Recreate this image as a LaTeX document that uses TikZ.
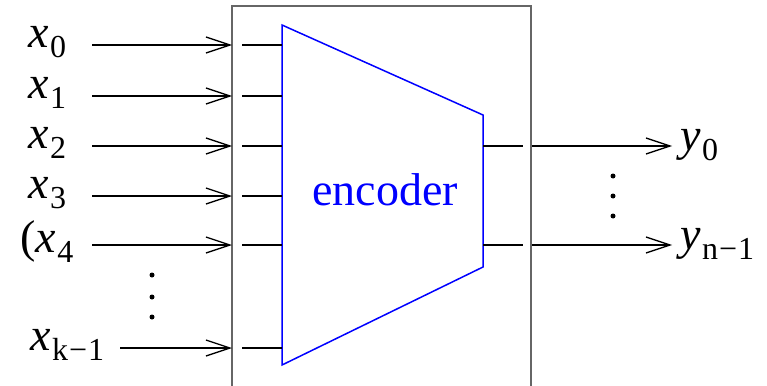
\documentclass[tikz,border=0pt]{standalone}
\usepackage{fontspec}
\setmainfont{Liberation Serif}
\usetikzlibrary{arrows.meta}
\newcommand{\sigtext}[2]{\textit{#1}\kern1pt\raisebox{-10pt}{\fontsize{32}{32}\selectfont #2}}

\begin{document}
\begin{tikzpicture}[x=1pt,y=-1pt,line width=1.3pt,
		sig/.style={-{Straight Barb[length=24pt,width=16pt,line width=1.3pt]}},
		lbl/.style={inner sep=0pt,font=\fontsize{46}{46}\selectfont},
		dot/.style={circle,fill,inner sep=0pt,minimum size=5pt}]
				\useasboundingbox (0,0) rectangle (767,385);
				% encoder box
				\draw[gray!80!black,line width=2pt] (232,390)--(232,6)--(531,6)--(531,390);
				\draw[blue,line width=1.5pt] (282,25)--(483,115)--(483,267)--(282,365)--cycle;
				\node[blue,lbl] (enc) at (385,190) {encoder};
				% inputs
				\foreach \i/\y/\s in {0/45/92,1/96/92,2/146/92,3/196/92,4/245/92,5/348/120} {
					\coordinate (s\i) at (\s,\y);
					\coordinate (in\i) at (232,\y);
					\coordinate (ib\i) at (242,\y);
					\coordinate (tr\i) at (282,\y);
					\draw[sig] (s\i) -- (in\i);
					\draw (ib\i) -- (tr\i);
				}
				\node[lbl,anchor=west] (x0) at (28,42) {\sigtext{x}{0}};
				\node[lbl,anchor=west] (x1) at (28,93) {\sigtext{x}{1}};
				\node[lbl,anchor=west] (x2) at (28,143) {\sigtext{x}{2}};
				\node[lbl,anchor=west] (x3) at (28,193) {\sigtext{x}{3}};
				\node[lbl,anchor=west] (x4) at (20,242) {(\sigtext{x}{4}};
				\node[lbl,anchor=west] (xk) at (30,345) {\sigtext{x}{k\kern1pt\textminus\kern1pt1}};
				\foreach \y [count=\j] in {275,297,317} \node[dot] (ld\j) at (152,\y) {};
				% outputs
				\foreach \i/\y in {0/146,1/245} {
					\coordinate (tq\i) at (483,\y);
					\coordinate (ob\i) at (523,\y);
					\coordinate (os\i) at (532,\y);
					\coordinate (out\i) at (672,\y);
					\draw (tq\i) -- (ob\i);
					\draw[sig] (os\i) -- (out\i);
				}
				\node[lbl,anchor=west] (y0) at (680,145) {\sigtext{y}{0}};
				\node[lbl,anchor=west] (yn) at (680,244) {\sigtext{y}{n\kern1pt\textminus\kern1pt1}};
				\foreach \y [count=\j] in {176,196,216} \node[dot] (rd\j) at (613,\y) {};
			\end{tikzpicture}
\end{document}
